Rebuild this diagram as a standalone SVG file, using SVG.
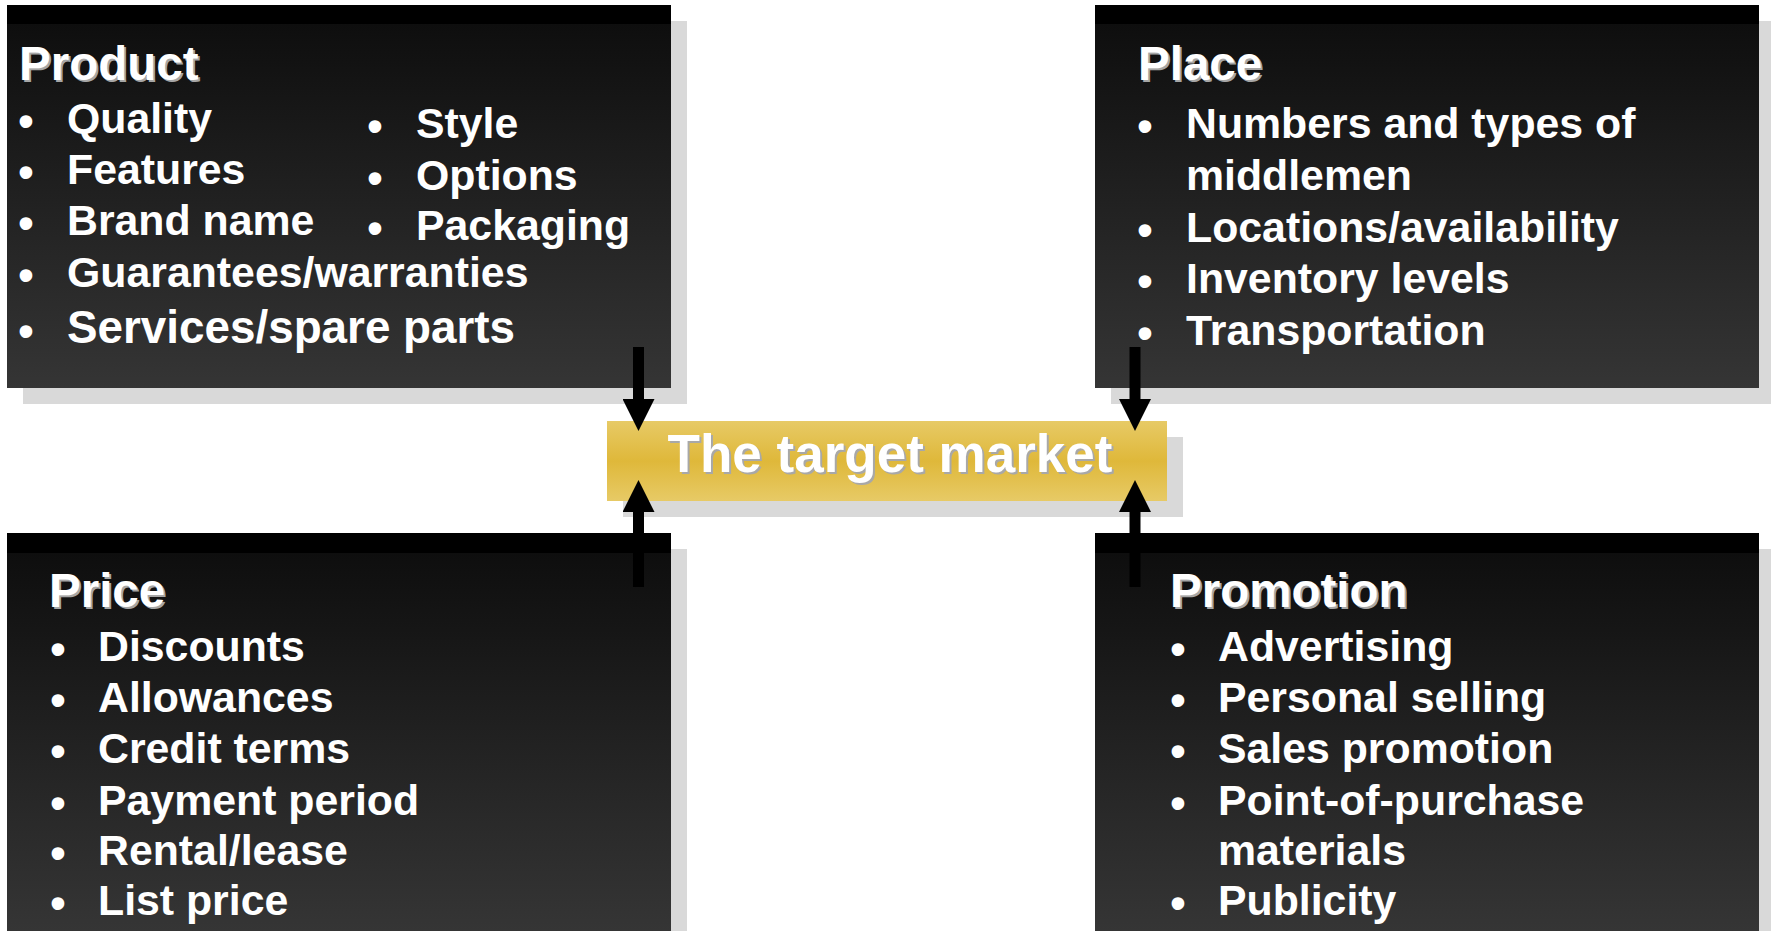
<svg xmlns="http://www.w3.org/2000/svg" width="1771" height="931" viewBox="0 0 1771 931">
  <style>
    .shadow { fill: #d9d9d9; }
    .band { fill: #000000; }
    .panel { fill: url(#panelFill); }
    .title { font-family: "Liberation Sans", Arial, sans-serif; font-weight: bold; font-size: 47.5px; fill: #ffffff; }
    .title-shade { font-family: "Liberation Sans", Arial, sans-serif; font-weight: bold; font-size: 47.5px; fill: #a6a6a6; }
    .item { font-family: "Liberation Sans", Arial, sans-serif; font-weight: bold; font-size: 42.8px; fill: #ffffff; }
    .item-lg { font-size: 45.8px; }
    .bullet { font-family: "Liberation Sans", Arial, sans-serif; font-weight: bold; font-size: 44px; fill: #ffffff; text-anchor: middle; }
    .hub-label { font-family: "Liberation Sans", Arial, sans-serif; font-weight: bold; font-size: 53px; fill: #ffffff; text-anchor: middle; }
    .hub-shade { font-family: "Liberation Sans", Arial, sans-serif; font-weight: bold; font-size: 53px; fill: #a8a8a8; text-anchor: middle; }
    .connector { stroke: #000000; stroke-width: 11; fill: none; marker-end: url(#arrowHead); }
  </style>
  <defs>
    <linearGradient id="panelFill" x1="0" y1="0" x2="0" y2="1">
      <stop offset="0" stop-color="#0c0c0c"/>
      <stop offset="1" stop-color="#353535"/>
    </linearGradient>
    <linearGradient id="goldFill" x1="0" y1="0" x2="0" y2="1">
      <stop offset="0" stop-color="#e7ca66"/>
      <stop offset="0.5" stop-color="#dfb83a"/>
      <stop offset="1" stop-color="#e7ca66"/>
    </linearGradient>
    <marker id="arrowHead" markerUnits="userSpaceOnUse" markerWidth="32" markerHeight="32" viewBox="0 0 32 32" refX="1" refY="16" orient="auto">
      <path d="M0,0 L32,16 L0,32 Z" fill="#000000"/>
    </marker>
  </defs>

  <rect x="0" y="0" width="1771" height="931" fill="#ffffff"/>

  <!-- Product -->
  <g id="product">
    <rect class="shadow" x="23" y="21" width="664" height="383"/>
    <rect class="panel" x="7" y="5" width="664" height="383"/>
    <rect class="band" x="7" y="5" width="664" height="19"/>
    <text class="title-shade" x="21" y="82">Product</text>
    <text class="title" x="19" y="80">Product</text>
    <text class="bullet" x="26" y="136">•</text>
    <text class="item" x="67" y="133">Quality</text>
    <text class="bullet" x="26" y="187">•</text>
    <text class="item" x="67" y="184">Features</text>
    <text class="bullet" x="26" y="238">•</text>
    <text class="item" x="67" y="235">Brand name</text>
    <text class="bullet" x="26" y="290">•</text>
    <text class="item" x="67" y="287">Guarantees/warranties</text>
    <text class="bullet" x="26" y="346">•</text>
    <text class="item item-lg" x="67" y="343">Services/spare parts</text>
    <text class="bullet" x="375" y="141">•</text>
    <text class="item" x="416" y="138">Style</text>
    <text class="bullet" x="375" y="193">•</text>
    <text class="item" x="416" y="190">Options</text>
    <text class="bullet" x="375" y="243">•</text>
    <text class="item" x="416" y="240">Packaging</text>
  </g>

  <!-- Place -->
  <g id="place">
    <rect class="shadow" x="1111" y="21" width="664" height="383"/>
    <rect class="panel" x="1095" y="5" width="664" height="383"/>
    <rect class="band" x="1095" y="5" width="664" height="19"/>
    <text class="title-shade" x="1140" y="82">Place</text>
    <text class="title" x="1138" y="80">Place</text>
    <text class="bullet" x="1145" y="141">•</text>
    <text class="item" x="1186" y="138">Numbers and types of</text>
    <text class="item" x="1186" y="190">middlemen</text>
    <text class="bullet" x="1145" y="245">•</text>
    <text class="item" x="1186" y="242">Locations/availability</text>
    <text class="bullet" x="1145" y="296">•</text>
    <text class="item" x="1186" y="293">Inventory levels</text>
    <text class="bullet" x="1145" y="348">•</text>
    <text class="item" x="1186" y="345">Transportation</text>
  </g>

  <!-- Price -->
  <g id="price">
    <rect class="shadow" x="23" y="549" width="664" height="400"/>
    <rect class="panel" x="7" y="533" width="664" height="398"/>
    <rect class="band" x="7" y="533" width="664" height="20"/>
    <text class="title-shade" x="51" y="609">Price</text>
    <text class="title" x="49" y="607">Price</text>
    <text class="bullet" x="58" y="664">•</text>
    <text class="item" x="98" y="661">Discounts</text>
    <text class="bullet" x="58" y="715">•</text>
    <text class="item" x="98" y="712">Allowances</text>
    <text class="bullet" x="58" y="766">•</text>
    <text class="item" x="98" y="763">Credit terms</text>
    <text class="bullet" x="58" y="818">•</text>
    <text class="item" x="98" y="815">Payment period</text>
    <text class="bullet" x="58" y="868">•</text>
    <text class="item" x="98" y="865">Rental/lease</text>
    <text class="bullet" x="58" y="918">•</text>
    <text class="item" x="98" y="915">List price</text>
  </g>

  <!-- Promotion -->
  <g id="promotion">
    <rect class="shadow" x="1111" y="549" width="664" height="400"/>
    <rect class="panel" x="1095" y="533" width="664" height="398"/>
    <rect class="band" x="1095" y="533" width="664" height="20"/>
    <text class="title-shade" x="1172" y="609">Promotion</text>
    <text class="title" x="1170" y="607">Promotion</text>
    <text class="bullet" x="1178" y="664">•</text>
    <text class="item" x="1218" y="661">Advertising</text>
    <text class="bullet" x="1178" y="715">•</text>
    <text class="item" x="1218" y="712">Personal selling</text>
    <text class="bullet" x="1178" y="766">•</text>
    <text class="item" x="1218" y="763">Sales promotion</text>
    <text class="bullet" x="1178" y="818">•</text>
    <text class="item" x="1218" y="815">Point-of-purchase</text>
    <text class="item" x="1218" y="865">materials</text>
    <text class="bullet" x="1178" y="918">•</text>
    <text class="item" x="1218" y="915">Publicity</text>
  </g>

  <!-- The target market -->
  <g id="target-market">
    <rect class="shadow" x="623" y="437" width="560" height="80"/>
    <rect x="607" y="421" width="560" height="80" fill="url(#goldFill)"/>
    <text class="hub-shade" x="892" y="474">The target market</text>
    <text class="hub-label" x="890" y="472">The target market</text>
  </g>

  <!-- Connectors: each mix element points at the target market -->
  <g id="connectors">
    <line class="connector" x1="638.5" y1="347" x2="638.5" y2="400"/>
    <line class="connector" x1="1135" y1="347" x2="1135" y2="400"/>
    <line class="connector" x1="638.5" y1="587" x2="638.5" y2="511"/>
    <line class="connector" x1="1135" y1="587" x2="1135" y2="511"/>
  </g>
</svg>
